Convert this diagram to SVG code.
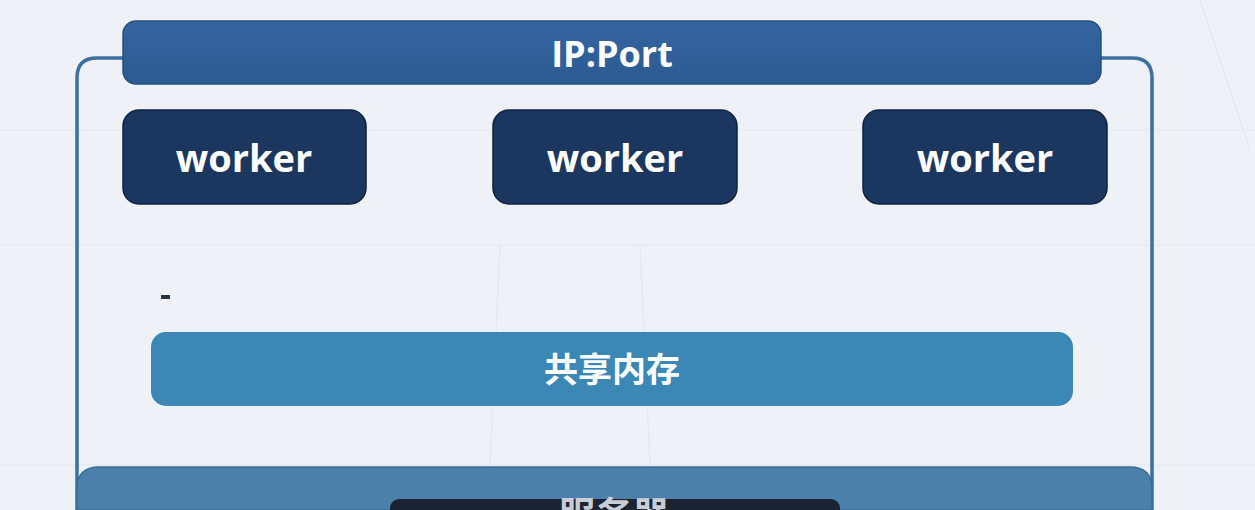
<svg xmlns="http://www.w3.org/2000/svg" width="1255" height="510" viewBox="0 0 1255 510">
<defs>
<style>
.lbl{font-family:"Open Sans","Noto Sans CJK SC",sans-serif;font-weight:700;fill:#ffffff;text-anchor:middle}
.worker rect{fill:#1b365f;stroke:#10223f;stroke-width:1.5}
.grid{stroke:#e3e8ee;stroke-width:1.2;fill:none}
</style>
<linearGradient id="gTop" x1="0" y1="0" x2="0" y2="1">
<stop offset="0" stop-color="#3565a0"/><stop offset="1" stop-color="#2c5b92"/>
</linearGradient>
</defs>
<rect width="1255" height="510" fill="#eef2f6"/>
<g id="background-grid" class="grid">
<path d="M0 245H1255M0 130H1255M0 465H1255M500 245L490 465M1200 0L1250 150M640 245L650 465"/>
</g>
<g id="connectors">
<path d="M125 58H97Q77 58 77 78V510" fill="none" stroke="#3c709e" stroke-width="3.5"/>
<path d="M1100 58H1132Q1152 58 1152 78V510" fill="none" stroke="#3c709e" stroke-width="3.5"/>
</g>
<g id="ipport">
<rect x="123" y="21" width="978" height="63" rx="13" fill="url(#gTop)" stroke="#24507f" stroke-width="1.5"/>
<text class="lbl" x="612" y="67" font-size="36">IP:Port</text>
</g>
<g id="worker1" class="worker">
<rect x="123" y="110" width="243" height="94" rx="16"/>
<text class="lbl" x="244" y="172" font-size="38">worker</text>
</g>
<g id="worker2" class="worker">
<rect x="493" y="110" width="244" height="94" rx="16"/>
<text class="lbl" x="615" y="172" font-size="38">worker</text>
</g>
<g id="worker3" class="worker">
<rect x="863" y="110" width="244" height="94" rx="16"/>
<text class="lbl" x="985" y="172" font-size="38">worker</text>
</g>
<rect x="161" y="295" width="9" height="4" fill="#2a3340"/>
<g id="shared-memory">
<rect x="151" y="332" width="922" height="74" rx="15" fill="#3b87b5"/>
<text class="lbl" x="612" y="382" font-size="34">共享内存</text>
</g>
<g id="server">
<path d="M77 510V489Q77 467 99 467H1130Q1152 467 1152 489V510Z" fill="#4b80ab" stroke="#3a6d97" stroke-width="1.5"/>
<rect x="390" y="499" width="450" height="30" rx="9" fill="#1c2433"/>
<text class="lbl" x="614" y="529" font-size="37" style="fill:#c9ced6">服务器</text>
</g>
</svg>
